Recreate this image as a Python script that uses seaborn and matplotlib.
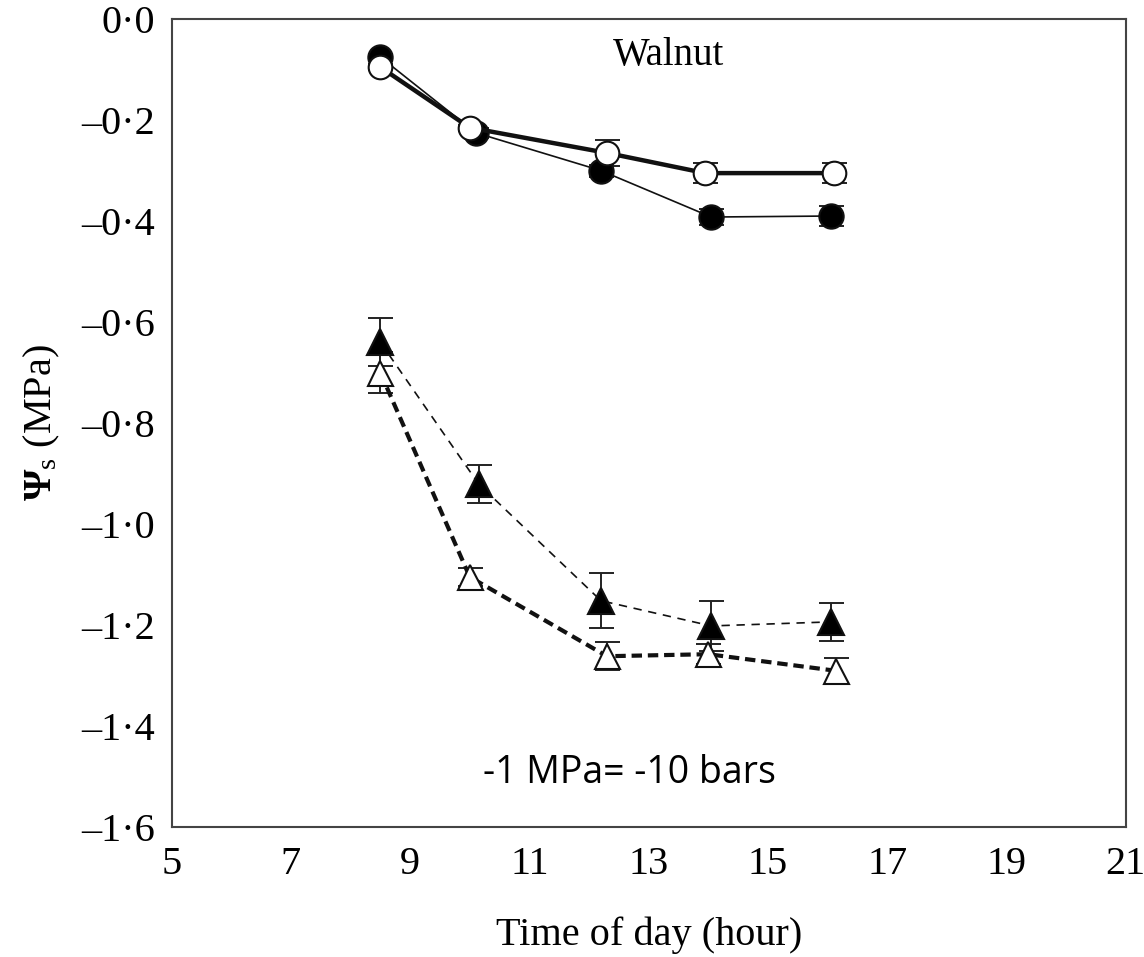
import pandas as pd
import matplotlib
matplotlib.use('Agg')
import matplotlib.pyplot as plt
import seaborn as sns
import numpy as np

# Walnut: solute potential through the day
hours_fc = [8.5, 10.1, 12.2, 14.05, 16.05]   # filled circles
psi_fc = [-0.075, -0.225, -0.300, -0.392, -0.390]
err_fc = [0.006, 0.010, 0.012, 0.015, 0.020]

hours_oc = [8.5, 10.0, 12.3, 13.95, 16.1]    # open circles
psi_oc = [-0.095, -0.215, -0.265, -0.305, -0.305]
err_oc = [0.006, 0.006, 0.025, 0.020, 0.020]

hours_ft = [8.5, 10.15, 12.2, 14.05, 16.05]  # filled triangles
psi_ft = [-0.640, -0.921, -1.152, -1.202, -1.194]
err_ft = [0.048, 0.038, 0.055, 0.050, 0.037]

hours_ot = [8.5, 10.0, 12.3, 14.0, 16.15]    # open triangles
psi_ot = [-0.700, -1.105, -1.262, -1.258, -1.291]
err_ot = [0.040, 0.018, 0.028, 0.020, 0.026]

x_ticks = [5, 7, 9, 11, 13, 15, 17, 19, 21]
y_ticks = [0.0, -0.2, -0.4, -0.6, -0.8, -1.0, -1.2, -1.4, -1.6]

sns.set_style('white')
plt.rcParams['font.family'] = ['Liberation Serif', 'DejaVu Serif']
plt.rcParams['mathtext.fontset'] = 'custom'
plt.rcParams['mathtext.rm'] = 'Liberation Serif'
plt.rcParams['mathtext.it'] = 'Liberation Serif:italic'
plt.rcParams['mathtext.bf'] = 'Liberation Serif:bold'
plt.rcParams['text.color'] = 'black'
plt.rcParams['axes.labelcolor'] = 'black'

fig, ax = plt.subplots(figsize=(11.44, 9.57), dpi=100)
fig.subplots_adjust(left=0.150, right=0.984, top=0.980, bottom=0.136)

series = [
    (hours_fc, psi_fc, err_fc, 'o', 'black', 1.2, '-', 17.5),
    (hours_oc, psi_oc, err_oc, 'o', 'white', 3.2, '-', 17),
    (hours_ft, psi_ft, err_ft, '^', 'black', 1.2, (0, (5, 4)), 18.5),
    (hours_ot, psi_ot, err_ot, '^', 'white', 3.0, (0, (2.5, 1.4)), 18),
]

# error bars first, then lines and markers on top
for xs, ys, es, mk, fc, lw, ls, ms in series:
    ax.errorbar(xs, ys, yerr=es, fmt='none', ecolor='#222222', elinewidth=1.4,
                capsize=9, capthick=1.4, zorder=2)

for xs, ys, es, mk, fc, lw, ls, ms in series:
    df = pd.DataFrame({'hour': xs, 'psi': ys})
    sns.lineplot(data=df, x='hour', y='psi', ax=ax, color='#111111', linewidth=lw,
                 linestyle=ls, marker=mk, markersize=ms, markerfacecolor=fc,
                 markeredgecolor='#111111', markeredgewidth=1.5, zorder=3)

ax.set_xlim(5, 21)
ax.set_ylim(-1.6, 0.0)
ax.set_xticks(x_ticks)
ax.set_yticks(y_ticks)


def fmt_y(v, _):
    s = f'{abs(v):.1f}'.replace('.', '\u00b7')
    return s if abs(v) < 1e-9 else '\u2013' + s


ax.yaxis.set_major_formatter(plt.FuncFormatter(fmt_y))
ax.tick_params(axis='both', direction='in', length=9, width=1.2, labelsize=29,
               colors='#333333', labelcolor='black', pad=12)
ax.tick_params(axis='x', pad=14)

for sp in ax.spines.values():
    sp.set_color('#444444')
    sp.set_linewidth(1.5)

ax.set_xlabel('Time of day (hour)', fontsize=29, labelpad=24, color='black')
ax.set_ylabel(r'$\mathbf{\Psi}_{\rm s}$ (MPa)', fontsize=29, labelpad=14, color='black')

ax.text(0.462, 0.955, 'Walnut', transform=ax.transAxes, fontsize=28,
        ha='left', va='center', color='black')
ax.text(0.326, 0.067, '-1 MPa= -10 bars', transform=ax.transAxes, fontsize=27,
        family=['Open Sans', 'DejaVu Sans'], ha='left', va='center', color='black')

if ax.get_legend() is not None:
    ax.get_legend().remove()

plt.savefig('out.png', dpi=100)
